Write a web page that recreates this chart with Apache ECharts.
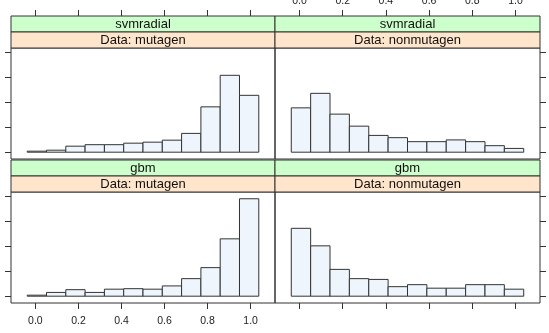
<!DOCTYPE html>
<html>
<head>
<meta charset="utf-8">
<script src="https://cdn.jsdelivr.net/npm/echarts@6/dist/echarts.min.js"></script>
<style>
  html, body { margin: 0; padding: 0; background: #fff; }
  #chart { width: 549px; height: 333px; }
</style>
</head>
<body>
<div id="chart"></div>
<script>
// histogram bin edges (shared by all panels)
const breaks = [-0.038, 0.0517, 0.1413, 0.231, 0.3207, 0.4103, 0.5, 0.5897, 0.6793, 0.769, 0.8587, 0.9483, 1.038];

// percent of total per bin
const svmMutagen = [0.4, 0.8, 2.4, 3.0, 3.0, 3.6, 4.0, 4.8, 7.5, 18.1, 30.7, 22.7];
const svmNonmutagen = [17.7, 23.5, 15.2, 10.4, 6.7, 5.8, 4.2, 4.2, 4.9, 4.2, 2.6, 1.5];
const gbmMutagen = [0.4, 1.5, 2.6, 1.5, 2.8, 3.0, 2.8, 4.1, 7.0, 11.4, 22.9, 38.9];
const gbmNonmutagen = [27.1, 20.1, 10.7, 7.0, 6.7, 3.8, 4.6, 3.2, 3.2, 4.6, 4.6, 2.8];

const xTicks = [0, 0.2, 0.4, 0.6, 0.8, 1.0];
const yTicks = [0, 10, 20, 30, 40];

const panels = [
  { model: "svmradial", data: "Data: mutagen", values: svmMutagen },
  { model: "svmradial", data: "Data: nonmutagen", values: svmNonmutagen },
  { model: "gbm", data: "Data: mutagen", values: gbmMutagen },
  { model: "gbm", data: "Data: nonmutagen", values: gbmNonmutagen },
];

const font = "'Liberation Sans', Arial, sans-serif";
const lineCol = "#333";

// panel layout (plotting region; strips sit above it)
const boxes = [
  { left: 11, top: 48, width: 264, height: 111 },
  { left: 275, top: 48, width: 265, height: 111 },
  { left: 11, top: 192, width: 264, height: 111 },
  { left: 275, top: 192, width: 265, height: 111 },
];
const stripH = 16;

const chart = echarts.init(document.getElementById("chart"));

const grids = [], xAxes = [], yAxes = [], series = [], graphics = [];

panels.forEach((p, i) => {
  const b = boxes[i];
  const isTop = i < 2;
  const isLeft = i % 2 === 0;

  grids.push({
    left: b.left, top: b.top, width: b.width, height: b.height,
    outerBoundsMode: "none",
    show: true, borderColor: lineCol, borderWidth: 1,
  });

  xAxes.push({
    gridIndex: i,
    type: "value",
    min: -0.1133,
    max: 1.1133,
    position: isTop ? "top" : "bottom",
    offset: isTop ? stripH * 2 : 0,
    axisLine: { show: false, onZero: false },
    splitLine: { show: false },
    axisTick: {
      show: true, inside: false, length: 6, customValues: xTicks,
      lineStyle: { color: lineCol },
    },
    axisLabel: {
      // lattice alternates labels: top-right and bottom-left
      show: (i === 1 || i === 2),
      customValues: xTicks,
      margin: isTop ? 9.5 : 13,
      fontSize: 10.5,
      fontFamily: font,
      color: "#222",
      formatter: (v) => v.toFixed(1),
    },
  });

  yAxes.push({
    gridIndex: i,
    type: "value",
    min: -2.72,
    max: 41.6,
    position: isLeft ? "left" : "right",
    axisLine: { show: false, onZero: false },
    splitLine: { show: false },
    axisTick: {
      show: true, inside: false, length: 6, customValues: yTicks,
      lineStyle: { color: lineCol },
    },
    axisLabel: { show: false },
  });

  const binData = p.values.map((v, k) => [breaks[k], breaks[k + 1], v]);
  series.push({
    type: "custom",
    xAxisIndex: i,
    yAxisIndex: i,
    data: binData,
    encode: { x: [0, 1], y: 2 },
    silent: true,
    renderItem: function (params, api) {
      const p0 = api.coord([api.value(0), 0]);
      const p1 = api.coord([api.value(1), api.value(2)]);
      return {
        type: "rect",
        shape: { x: p0[0], y: p1[1], width: p1[0] - p0[0], height: p0[1] - p1[1] },
        style: { fill: "#EEF5FC", stroke: lineCol, lineWidth: 1 },
      };
    },
  });

  // strips: model (green) above, data set (orange) below
  const stripTop = b.top - stripH * 2;
  [[p.model, "#CCFFCC", stripTop], [p.data, "#FFE5CC", stripTop + stripH]].forEach(([txt, col, y]) => {
    graphics.push({
      type: "rect",
      shape: { x: b.left, y: y, width: b.width, height: stripH },
      style: { fill: col, stroke: lineCol, lineWidth: 1 },
      z: 10,
    });
    graphics.push({
      type: "text",
      x: b.left + b.width / 2,
      y: y + stripH / 2 + 0.5,
      style: {
        text: txt, fill: "#111", font: "13px " + font,
        textAlign: "center", textVerticalAlign: "middle",
      },
      z: 11,
    });
  });
});

chart.setOption({
  animation: false,
  backgroundColor: "#fff",
  grid: grids,
  xAxis: xAxes,
  yAxis: yAxes,
  series: series,
  graphic: graphics,
});
</script>
</body>
</html>
